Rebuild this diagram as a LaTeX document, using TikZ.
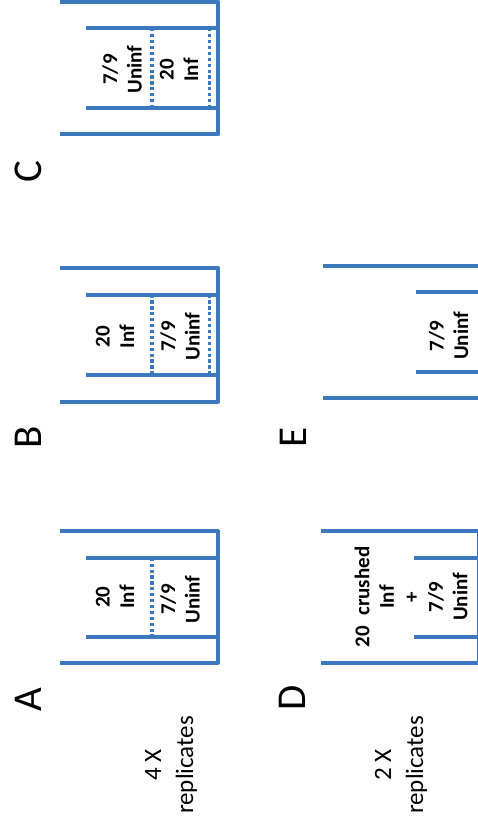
\documentclass[tikz,border=0pt]{standalone}
\usepackage{fontspec}
\setmainfont{Carlito}
\definecolor{tubeblue}{RGB}{60,120,190}
\begin{document}
\begin{tikzpicture}[x=1pt,y=-1pt,
  wall/.style={draw=tubeblue,line width=4pt,line join=round},
  sieve/.style={draw=tubeblue,line width=3.8pt,dash pattern=on 3.2pt off 2.7pt},
  lab/.style={rotate=90,align=center,font=\fontsize{21}{24.5}\selectfont\bfseries,inner sep=0pt},
  letter/.style={rotate=90,font=\fontsize{41}{48}\selectfont,inner sep=0pt},
  rep/.style={rotate=90,align=center,font=\fontsize{25}{32}\selectfont,inner sep=0pt}]
\useasboundingbox (0,0) rectangle (477,832);

% ---------- Panel C ----------
\draw[wall] (60,1.8) -- (218,1.8) -- (218,134.3) -- (60,134.3);
\draw[wall] (86,28.3) -- (218,28.3);
\draw[wall] (86,107.7) -- (218,107.7);
\draw[sieve] (151.7,28.3) -- (151.7,107.7);
\draw[sieve] (209.5,28.3) -- (209.5,107.7);
\node[lab] (c1) at (122,69.5) {7/9\\Uninf};
\node[lab] (c2) at (179,70) {20\\Inf};
\node[letter] (lc) at (28.5,172) {C};

% ---------- Panel B ----------
\draw[wall] (60,268.3) -- (218,268.3) -- (218,401.5) -- (60,401.5);
\draw[wall] (86,294.5) -- (218,294.5);
\draw[wall] (86,374.5) -- (218,374.5);
\draw[sieve] (151.7,294.5) -- (151.7,374.5);
\draw[sieve] (209.5,294.5) -- (209.5,374.5);
\node[lab] (b1) at (115,336.7) {20\\Inf};
\node[lab] (b2) at (180,336.5) {7/9\\Uninf};
\node[letter] (lb) at (28.5,437) {B};

% ---------- Panel A ----------
\draw[wall] (60,531) -- (218,531) -- (218,662.7) -- (60,662.7);
\draw[wall] (86,557.7) -- (218,557.7);
\draw[wall] (86,636.7) -- (218,636.7);
\draw[sieve] (151.7,557.7) -- (151.7,636.7);
\node[lab] (a1) at (115,597) {20\\Inf};
\node[lab] (a2) at (180,599.5) {7/9\\Uninf};
\node[letter] (la) at (28.5,700) {A};
\node[rep] (ra) at (171,765) {4 X\\replicates};

% ---------- Panel E ----------
\draw[wall] (323,266) -- (480,266);
\draw[wall] (323,398.3) -- (480,398.3);
\draw[wall] (416,292.3) -- (480,292.3);
\draw[wall] (416,371.7) -- (480,371.7);
\node[lab] (e1) at (448.5,336) {7/9\\Uninf};
\node[letter] (le) at (293,437) {E};

% ---------- Panel D ----------
\draw[wall] (321,530.7) -- (478.6,530.7) -- (478.6,662.7) -- (321,662.7);
\draw[wall] (414,557.7) -- (480,557.7);
\draw[wall] (414,636.7) -- (480,636.7);
\node[lab] (d1) at (411,597) {20\enspace crushed\\Inf\\+\\7/9\\Uninf};
\node[letter] (ld) at (292,698) {D};
\node[rep] (rd) at (401,765) {2 X\\replicates};
\end{tikzpicture}
\end{document}
